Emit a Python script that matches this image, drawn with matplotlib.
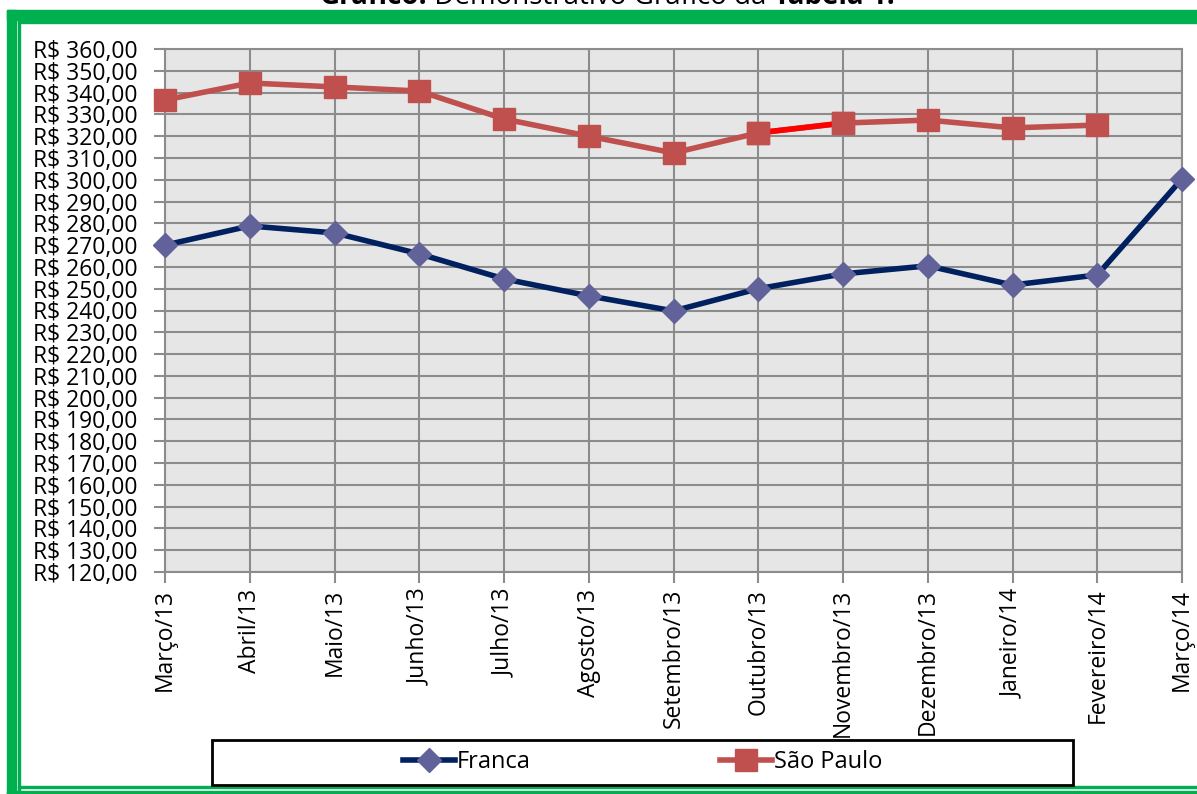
import matplotlib.pyplot as plt
from matplotlib.patches import Rectangle
from matplotlib.ticker import MultipleLocator, FuncFormatter

meses = ["Março/13", "Abril/13", "Maio/13", "Junho/13", "Julho/13", "Agosto/13",
         "Setembro/13", "Outubro/13", "Novembro/13", "Dezembro/13", "Janeiro/14",
         "Fevereiro/14", "Março/14"]
franca = [270.0, 278.8, 275.6, 266.0, 254.5, 246.7, 239.8, 250.0, 256.8, 260.5,
          251.7, 256.3, 300.4]
sao_paulo = [336.6, 344.4, 342.6, 340.7, 327.9, 320.0, 312.3, 321.5, 326.0, 327.4,
             323.8, 325.1]

plt.rcParams['font.family'] = ['Open Sans', 'DejaVu Sans']

fig = plt.figure(figsize=(11.97, 7.94), dpi=100)
ax = fig.add_axes([165/1197, 1-572/794, (1182-165)/1197, (572-49)/794])

verde = "#00B050"
# moldura verde
fig.patches.append(Rectangle((7/1197, 1-20/794), 1, 10/794, transform=fig.transFigure,
                             color=verde, zorder=0))
fig.patches.append(Rectangle((7/1197, 0), 9/1197, 1-10/794, transform=fig.transFigure,
                             color=verde, zorder=0))
fig.patches.append(Rectangle((18/1197, 1-23/794), 1, 2/794, transform=fig.transFigure,
                             color=verde, zorder=0))
fig.patches.append(Rectangle((18/1197, 0), 2/1197, 1-21/794, transform=fig.transFigure,
                             color=verde, zorder=0))
fig.patches.append(Rectangle((18/1197, 6/794), 1, 2/794, transform=fig.transFigure,
                             color=verde, zorder=0))
fig.patches.append(Rectangle((7/1197, 0), 1, 3/794, transform=fig.transFigure,
                             color=verde, zorder=0))

x = list(range(len(meses)))
ax.set_facecolor("#E6E6E6")
ax.plot(x, franca, color="#002060", lw=4, marker="D", ms=12, mfc="#62629A",
        mec="#62629A", label="Franca", clip_on=False, zorder=3)
ax.plot(x[:len(sao_paulo)], sao_paulo, color="#C0504D", lw=4, marker="s", ms=16,
        mfc="#C0504D", mec="#C0504D", label="São Paulo", clip_on=False, zorder=3)
# trecho destacado em vermelho
ax.plot(x[7:9], sao_paulo[7:9], color="#FF0000", lw=4, zorder=3.2)
ax.plot(x[7:9], sao_paulo[7:9], ls="none", marker="s", ms=16, color="#C0504D", zorder=3.5)

ax.set_xlim(0, 12)
ax.set_ylim(120, 360)
ax.yaxis.set_major_locator(MultipleLocator(10))
ax.yaxis.set_major_formatter(FuncFormatter(lambda v, p: f"R$ {v:.2f}".replace(".", ",")))
ax.set_xticks(x)
ax.set_xticklabels(meses, rotation=90, fontsize=16.5)
ax.tick_params(axis="y", labelsize=16.5, length=8, width=1.5, color="#8C8C8C", pad=12)
ax.tick_params(axis="x", length=8, width=1.5, color="#8C8C8C", pad=4)
ax.grid(True, color="#8C8C8C", lw=1.5)
ax.set_axisbelow(True)
for s in ax.spines.values():
    s.set_color("#8C8C8C")
    s.set_linewidth(1.5)

# caixa da legenda
fig.patches.append(Rectangle((212/1197, 9/794), 861/1197, 45/794, transform=fig.transFigure,
                             facecolor="white", edgecolor="black", lw=2, zorder=1))
leg = fig.legend(loc="center", bbox_to_anchor=(212/1197, 9/794, 861/1197, 45/794),
                 ncol=2, fontsize=17, handlelength=2.2, handletextpad=0.1,
                 columnspacing=8, frameon=False, borderaxespad=0)
leg.set_zorder(2)

# título cortado no topo
renderer = fig.canvas.get_renderer()
partes = [("Gráfico.", "bold"), (" Demonstrativo Gráfico da ", "normal"), ("Tabela 1.", "bold")]
larguras = []
textos = []
for t, w in partes:
    tx = fig.text(0, 1 + 3/794, t, fontsize=20, fontweight=w, va="center", ha="left")
    textos.append(tx)
    larguras.append(tx.get_window_extent(renderer).width)
x0 = 607 - sum(larguras) / 2
for tx, lw in zip(textos, larguras):
    tx.set_x(x0 / 1197)
    x0 += lw

fig.savefig("out.png", dpi=100)
